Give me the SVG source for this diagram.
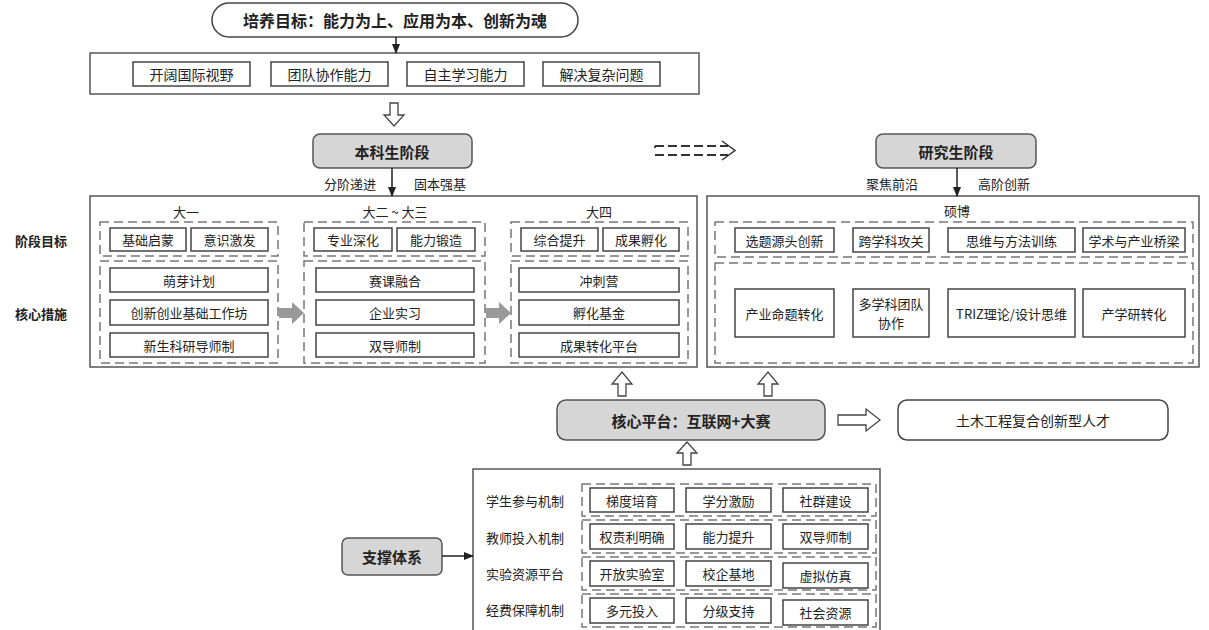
<svg xmlns="http://www.w3.org/2000/svg" width="1209" height="630" viewBox="0 0 1209 630">
<style>
text{font-family:"Noto Sans CJK SC","Liberation Sans",sans-serif;fill:#222;text-anchor:middle;dominant-baseline:central}
.t{font-size:13px}
.t14{font-size:14px}
.b{font-size:15px;font-weight:bold}
.lb{font-size:13px;font-weight:bold}
.box{fill:#fff;stroke:#444;stroke-width:1.5}
.outer{fill:#fff;stroke:#555;stroke-width:1.5}
.dash{fill:none;stroke:#777;stroke-width:1.5;stroke-dasharray:9,5}
.stage{fill:#d6d6d6;stroke:#555;stroke-width:1.5}
.hollow{fill:#fff;stroke:#444;stroke-width:1.3}
.ln{stroke:#222;stroke-width:1.5;fill:none}
.gray{fill:#999}
</style>
<defs>
<marker id="ah" viewBox="0 0 10 10" refX="9" refY="5" markerWidth="7" markerHeight="7" orient="auto"><path d="M0,1 L10,5 L0,9 z" fill="#222"/></marker>
</defs>

<g id="goal">
<rect x="212" y="3" width="366" height="34" rx="17" class="box"/>
<text x="395" y="20" class="b" style="font-size:16px">培养目标：能力为上、应用为本、创新为魂</text>
</g>

<g id="abilities">
<rect x="90" y="53" width="609" height="41" class="outer"/>
<rect x="133" y="62" width="117" height="24" class="box"/><text x="191.5" y="74" class="t14">开阔国际视野</text>
<rect x="271" y="62" width="117" height="24" class="box"/><text x="329.5" y="74" class="t14">团队协作能力</text>
<rect x="407" y="62" width="117" height="24" class="box"/><text x="465.5" y="74" class="t14">自主学习能力</text>
<rect x="543" y="62" width="117" height="24" class="box"/><text x="601.5" y="74" class="t14">解决复杂问题</text>
</g>

<g id="undergrad-title">
<rect x="313" y="134" width="159" height="34" rx="7" class="stage"/>
<text x="392" y="151" class="b">本科生阶段</text>
</g>

<g id="grad-title">
<rect x="876" y="134" width="160" height="34" rx="7" class="stage"/>
<text x="956" y="151" class="b">研究生阶段</text>
</g>

<g id="side-labels">
<text x="41" y="240" class="lb">阶段目标</text>
<text x="41" y="313" class="lb">核心措施</text>
</g>

<g id="undergrad">
<rect x="90" y="196" width="607" height="171" class="outer"/>
<text x="186" y="211" class="t">大一</text>
<text x="395" y="211" class="t">大二 ~ 大三</text>
<text x="599" y="211" class="t">大四</text>
<rect x="100" y="222" width="178" height="34" class="dash"/>
<rect x="100" y="261" width="178" height="102" class="dash"/>
<rect x="304" y="222" width="181" height="34" class="dash"/>
<rect x="304" y="261" width="181" height="102" class="dash"/>
<rect x="511" y="222" width="177" height="34" class="dash"/>
<rect x="511" y="261" width="177" height="102" class="dash"/>
<rect x="110" y="228" width="76" height="23" class="box"/><text x="148" y="239.5" class="t">基础启蒙</text>
<rect x="191" y="228" width="77" height="23" class="box"/><text x="229.5" y="239.5" class="t">意识激发</text>
<rect x="314" y="228" width="78" height="23" class="box"/><text x="353" y="239.5" class="t">专业深化</text>
<rect x="397" y="228" width="78" height="23" class="box"/><text x="436" y="239.5" class="t">能力锻造</text>
<rect x="521" y="228" width="77" height="23" class="box"/><text x="559.5" y="239.5" class="t">综合提升</text>
<rect x="603" y="228" width="76" height="23" class="box"/><text x="641" y="239.5" class="t">成果孵化</text>
<rect x="110" y="268" width="158" height="24" class="box"/><text x="189" y="280" class="t">萌芽计划</text>
<rect x="110" y="300" width="158" height="25" class="box"/><text x="189" y="312.5" class="t">创新创业基础工作坊</text>
<rect x="110" y="333" width="158" height="24" class="box"/><text x="189" y="345" class="t">新生科研导师制</text>
<rect x="316" y="268" width="158" height="24" class="box"/><text x="395" y="280" class="t">赛课融合</text>
<rect x="316" y="300" width="158" height="25" class="box"/><text x="395" y="312.5" class="t">企业实习</text>
<rect x="316" y="333" width="158" height="24" class="box"/><text x="395" y="345" class="t">双导师制</text>
<rect x="519" y="268" width="160" height="24" class="box"/><text x="599" y="280" class="t">冲刺营</text>
<rect x="519" y="300" width="160" height="25" class="box"/><text x="599" y="312.5" class="t">孵化基金</text>
<rect x="519" y="333" width="160" height="24" class="box"/><text x="599" y="345" class="t">成果转化平台</text>
</g>

<g id="grad">
<rect x="707" y="196" width="492" height="171" class="outer"/>
<text x="957" y="210" class="t">硕博</text>
<rect x="715" y="222" width="478" height="35" class="dash"/>
<rect x="715" y="263" width="478" height="100" class="dash"/>
<rect x="735" y="228" width="99" height="24" class="box"/><text x="784.5" y="240" class="t">选题源头创新</text>
<rect x="853" y="228" width="76" height="24" class="box"/><text x="891" y="240" class="t">跨学科攻关</text>
<rect x="948" y="228" width="127" height="24" class="box"/><text x="1011.5" y="240" class="t">思维与方法训练</text>
<rect x="1083" y="228" width="102" height="24" class="box"/><text x="1134" y="240" class="t">学术与产业桥梁</text>
<rect x="735" y="289" width="99" height="48" class="box"/><text x="784.5" y="313" class="t">产业命题转化</text>
<rect x="853" y="289" width="76" height="48" class="box"/><text x="891" y="303" class="t">多学科团队</text><text x="891" y="322" class="t">协作</text>
<rect x="948" y="289" width="127" height="48" class="box"/><text x="1011.5" y="313" class="t">TRIZ理论/设计思维</text>
<rect x="1083" y="289" width="102" height="48" class="box"/><text x="1134" y="313" class="t">产学研转化</text>
</g>

<g id="platform">
<rect x="557" y="400" width="268" height="40" rx="9" class="stage"/>
<text x="691" y="420" class="b">核心平台：互联网+大赛</text>
</g>

<g id="talent">
<rect x="898" y="400" width="270" height="40" rx="9" class="box"/>
<text x="1033" y="420" class="t" style="font-size:14px">土木工程复合创新型人才</text>
</g>

<g id="support-title">
<rect x="342" y="538" width="100" height="37" rx="6" class="stage"/>
<text x="392" y="556.5" class="b">支撑体系</text>
</g>

<g id="support">
<rect x="473" y="469" width="407" height="165" class="outer"/>
<text x="525" y="500" class="t">学生参与机制</text>
<text x="525" y="537" class="t">教师投入机制</text>
<text x="525" y="573" class="t">实验资源平台</text>
<text x="525" y="609" class="t">经费保障机制</text>
<rect x="582" y="484" width="294" height="32" class="dash"/>
<rect x="582" y="520" width="294" height="33" class="dash"/>
<rect x="582" y="557" width="294" height="33" class="dash"/>
<rect x="582" y="594" width="294" height="33" class="dash"/>
<rect x="590" y="488" width="84" height="24" class="box"/><text x="632" y="500" class="t">梯度培育</text>
<rect x="686" y="488" width="85" height="24" class="box"/><text x="728.5" y="500" class="t">学分激励</text>
<rect x="783" y="488" width="85" height="24" class="box"/><text x="825.5" y="500" class="t">社群建设</text>
<rect x="590" y="524" width="84" height="25" class="box"/><text x="632" y="536.5" class="t">权责利明确</text>
<rect x="686" y="524" width="85" height="25" class="box"/><text x="728.5" y="536.5" class="t">能力提升</text>
<rect x="783" y="524" width="85" height="25" class="box"/><text x="825.5" y="536.5" class="t">双导师制</text>
<rect x="590" y="561" width="84" height="25" class="box"/><text x="632" y="573.5" class="t">开放实验室</text>
<rect x="686" y="561" width="85" height="25" class="box"/><text x="728.5" y="573.5" class="t">校企基地</text>
<rect x="783" y="563" width="85" height="25" class="box"/><text x="825.5" y="575.5" class="t">虚拟仿真</text>
<rect x="590" y="598" width="84" height="25" class="box"/><text x="632" y="610.5" class="t">多元投入</text>
<rect x="686" y="598" width="85" height="25" class="box"/><text x="728.5" y="610.5" class="t">分级支持</text>
<rect x="783" y="600" width="85" height="25" class="box"/><text x="825.5" y="612.5" class="t">社会资源</text>
</g>

<g id="connectors">
<line x1="396" y1="37" x2="396" y2="53" class="ln" marker-end="url(#ah)"/>
<path d="M390,103 H398 V115 H404 L394,126 L384,115 H390 Z" class="hollow"/>
<line x1="392" y1="168" x2="392" y2="196" class="ln" marker-end="url(#ah)"/>
<text x="350" y="183" class="t">分阶递进</text>
<text x="440" y="183" class="t">固本强基</text>
<line x1="957" y1="168" x2="957" y2="196" class="ln" marker-end="url(#ah)"/>
<text x="892" y="183" class="t">聚焦前沿</text>
<text x="1004" y="183" class="t">高阶创新</text>
<path d="M655,146 H728 M655,155 H728" stroke="#333" stroke-width="1.8" stroke-dasharray="9,4" fill="none"/>
<path d="M655,146 V148" stroke="#333" stroke-width="1.8"/>
<path d="M722,141 L735,150.5 L722,160" stroke="#333" stroke-width="1.5" fill="none"/>
<path d="M279,308 H292 V302 L304,313 L292,324 V318 H279 Z" class="gray"/>
<path d="M486,308 H499 V302 L511,313 L499,324 V318 H486 Z" class="gray"/>
<path d="M618,396 V384 H612 L622,372 L632,384 H626 V396 Z" class="hollow"/>
<path d="M764,396 V384 H758 L768,372 L778,384 H772 V396 Z" class="hollow"/>
<path d="M683,465 V453 H677 L687,442 L697,453 H691 V465 Z" class="hollow"/>
<path d="M838,415 H866 V409 L880,420 L866,431 V425 H838 Z" class="hollow"/>
<line x1="442" y1="556" x2="473" y2="556" class="ln" marker-end="url(#ah)"/>
</g>
</svg>
